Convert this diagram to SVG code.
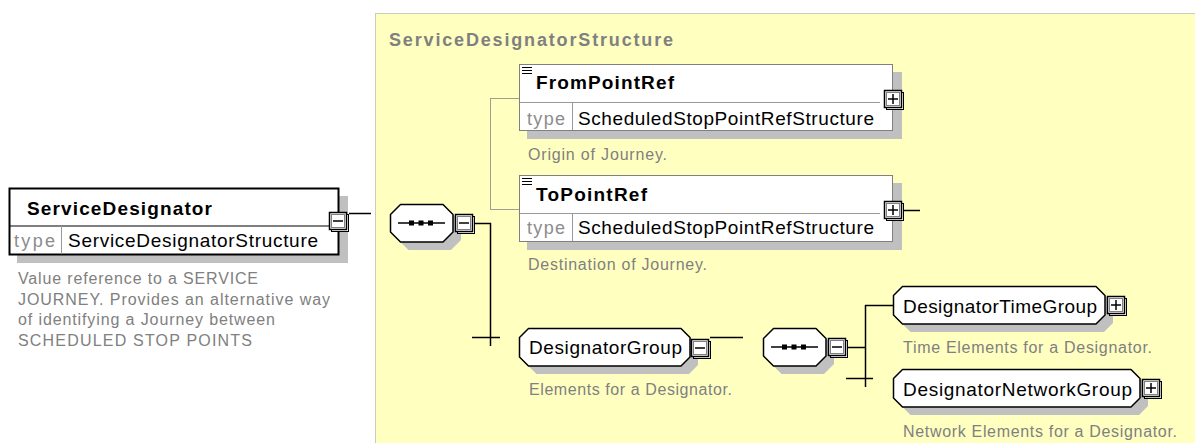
<svg xmlns="http://www.w3.org/2000/svg" xmlns:xlink="http://www.w3.org/1999/xlink" width="1195" height="443" viewBox="0 0 1195 443">
<style>
text{font-family:"Liberation Sans",Arial,sans-serif;}
.nm{font-size:19px;fill:#000;}
.bnm{font-size:19px;font-weight:bold;fill:#000;}
.ty{font-size:18px;fill:#8c8c8c;}
.ds{font-size:16px;fill:#808080;}
.ttl{font-size:18px;font-weight:bold;fill:#808080;}
.sh{fill:#c0c0c0;stroke:none;}
.box{fill:#fff;stroke:#808080;stroke-width:1;}
.gshape{fill:#fff;stroke:#000;stroke-width:1.5;stroke-linejoin:round;}
.div{stroke:#999;stroke-width:1;fill:none;}
.cn{stroke:#000;stroke-width:1.5;fill:none;}
.cg{stroke:#a0a090;stroke-width:1;fill:none;}
</style>
<defs>
<g id="btnbase">
<rect x="2.5" y="2.5" width="17" height="17" fill="#fff" stroke="#000" stroke-width="1"/>
<rect x="0.5" y="0.5" width="17" height="17" fill="#fff" stroke="#000" stroke-width="1.5"/>
<rect x="2.5" y="2.5" width="13" height="13" fill="none" stroke="#808080" stroke-width="1"/>
</g>
<g id="btnminus">
<use xlink:href="#btnbase"/>
<line x1="4" y1="9" x2="14" y2="9" stroke="#000" stroke-width="1.5"/>
</g>
<g id="btnplus">
<use xlink:href="#btnbase"/>
<line x1="4" y1="9" x2="14" y2="9" stroke="#000" stroke-width="1.5"/>
<line x1="9" y1="4" x2="9" y2="14" stroke="#000" stroke-width="1.5"/>
</g>
<g id="seq">
<path class="sh" d="M18.5,8.5 H61 L71,18.5 V36 L61,46 H18.5 L8.5,36 V18.5 Z"/>
<path class="gshape" d="M10.5,0.5 H53 L63,10.5 V28 L53,38 H10.5 L0.5,28 V10.5 Z"/>
<line x1="8" y1="19" x2="55" y2="19" stroke="#000" stroke-width="1.5"/>
<rect x="19" y="16.5" width="5" height="5" fill="#000"/>
<rect x="28.5" y="16.5" width="5" height="5" fill="#000"/>
<rect x="38" y="16.5" width="5" height="5" fill="#000"/>
</g>
<g id="seqicon">
<line x1="0" y1="0.5" x2="10" y2="0.5" stroke="#000" stroke-width="1"/>
<line x1="0" y1="3.5" x2="10" y2="3.5" stroke="#000" stroke-width="1"/>
<line x1="0" y1="6.5" x2="10" y2="6.5" stroke="#000" stroke-width="1"/>
</g>
</defs>

<rect x="375.5" y="13.5" width="830" height="440" fill="#ffffc0" stroke="#999" stroke-width="1" stroke-dasharray="1,1"/>
<text class="ttl" x="389" y="46" textLength="284" lengthAdjust="spacing">ServiceDesignatorStructure</text>

<g id="connectors">
<line class="cn" x1="349" y1="213.5" x2="371" y2="213.5"/>
<line class="cn" x1="474" y1="223.5" x2="491" y2="223.5"/>
<line class="cn" x1="490.5" y1="223" x2="490.5" y2="346"/>
<line class="cn" x1="472" y1="337.5" x2="500" y2="337.5"/>
<line class="cg" x1="490.5" y1="98" x2="490.5" y2="209"/>
<line class="cg" x1="490" y1="98.5" x2="519" y2="98.5"/>
<line class="cg" x1="490" y1="209.5" x2="519" y2="209.5"/>
<line class="cn" x1="903" y1="210.5" x2="920" y2="210.5"/>
<line class="cn" x1="710" y1="337.5" x2="743" y2="337.5"/>
<line class="cn" x1="847" y1="347.5" x2="866" y2="347.5"/>
<line class="cn" x1="865.5" y1="305" x2="865.5" y2="387"/>
<line class="cn" x1="865" y1="305.5" x2="893" y2="305.5"/>
<line class="cn" x1="846" y1="378.5" x2="873" y2="378.5"/>
</g>

<g id="ServiceDesignator">
<rect class="sh" x="17" y="196" width="331" height="67"/>
<rect x="9.5" y="188.5" width="329" height="66" fill="#fff" stroke="#000" stroke-width="2"/>
<line x1="10" y1="226" x2="338" y2="226" stroke="#000" stroke-width="1"/>
<line x1="61.5" y1="226" x2="61.5" y2="254" stroke="#999" stroke-width="1"/>
<text class="bnm" x="27" y="215" textLength="185" lengthAdjust="spacing">ServiceDesignator</text>
<text class="ty" x="14" y="247" textLength="41" lengthAdjust="spacing">type</text>
<text class="nm" x="68" y="247" textLength="250" lengthAdjust="spacing">ServiceDesignatorStructure</text>
<use xlink:href="#btnminus" x="329" y="212"/>
<text class="ds" x="18" y="284" textLength="240" lengthAdjust="spacing">Value reference to a SERVICE</text>
<text class="ds" x="18" y="305" textLength="312" lengthAdjust="spacing">JOURNEY. Provides an alternative way</text>
<text class="ds" x="18" y="325" textLength="257" lengthAdjust="spacing">of identifying a Journey between</text>
<text class="ds" x="18" y="346" textLength="234" lengthAdjust="spacing">SCHEDULED STOP POINTS</text>
</g>

<g id="Sequence1">
<use xlink:href="#seq" x="390" y="204"/>
<use xlink:href="#btnminus" x="455" y="214"/>
</g>

<g id="FromPointRef">
<rect class="sh" x="527" y="72" width="375" height="67"/>
<rect class="box" x="519.5" y="64.5" width="373" height="66"/>
<line class="div" x1="520" y1="102.5" x2="880" y2="102.5"/>
<line class="div" x1="572.5" y1="103" x2="572.5" y2="130"/>
<use xlink:href="#seqicon" x="522" y="67"/>
<text class="bnm" x="536" y="89" textLength="138" lengthAdjust="spacing">FromPointRef</text>
<text class="ty" x="527" y="125" textLength="38" lengthAdjust="spacing">type</text>
<text class="nm" x="578" y="125" textLength="296" lengthAdjust="spacing">ScheduledStopPointRefStructure</text>
<use xlink:href="#btnplus" x="884" y="90"/>
<text class="ds" x="528" y="160" textLength="139" lengthAdjust="spacing">Origin of Journey.</text>
</g>

<g id="ToPointRef">
<rect class="sh" x="527" y="183" width="375" height="67"/>
<rect class="box" x="519.5" y="175.5" width="373" height="66"/>
<line class="div" x1="520" y1="213.5" x2="880" y2="213.5"/>
<line class="div" x1="572.5" y1="214" x2="572.5" y2="241"/>
<use xlink:href="#seqicon" x="522" y="178"/>
<text class="bnm" x="536" y="201" textLength="111" lengthAdjust="spacing">ToPointRef</text>
<text class="ty" x="527" y="234" textLength="38" lengthAdjust="spacing">type</text>
<text class="nm" x="578" y="234" textLength="296" lengthAdjust="spacing">ScheduledStopPointRefStructure</text>
<use xlink:href="#btnplus" x="884" y="201"/>
<text class="ds" x="528" y="270" textLength="179" lengthAdjust="spacing">Destination of Journey.</text>
</g>

<g id="DesignatorGroup">
<path class="sh" d="M536.5,336.5 H689 L698,345.5 V365 L689,374 H536.5 L527.5,365 V345.5 Z"/>
<path class="gshape" d="M528.5,328.5 H681 L690,337.5 V357 L681,366 H528.5 L519.5,357 V337.5 Z"/>
<text class="nm" x="529" y="354" textLength="153" lengthAdjust="spacing">DesignatorGroup</text>
<use xlink:href="#btnminus" x="691" y="339"/>
<text class="ds" x="529" y="395" textLength="203" lengthAdjust="spacing">Elements for a Designator.</text>
</g>

<g id="Sequence2">
<use xlink:href="#seq" x="763" y="328"/>
<use xlink:href="#btnminus" x="828" y="338"/>
</g>

<g id="DesignatorTimeGroup">
<path class="sh" d="M910.5,294.5 H1104 L1113,303.5 V323 L1104,332 H910.5 L901.5,323 V303.5 Z"/>
<path class="gshape" d="M902.5,286.5 H1096 L1105,295.5 V315 L1096,324 H902.5 L893.5,315 V295.5 Z"/>
<text class="nm" x="903" y="313" textLength="194" lengthAdjust="spacing">DesignatorTimeGroup</text>
<use xlink:href="#btnplus" x="1107" y="296"/>
<text class="ds" x="903" y="353" textLength="249" lengthAdjust="spacing">Time Elements for a Designator.</text>
</g>

<g id="DesignatorNetworkGroup">
<path class="sh" d="M910.5,377.5 H1139 L1148,386.5 V406 L1139,415 H910.5 L901.5,406 V386.5 Z"/>
<path class="gshape" d="M902.5,369.5 H1131 L1140,378.5 V398 L1131,407 H902.5 L893.5,398 V378.5 Z"/>
<text class="nm" x="903" y="396" textLength="229" lengthAdjust="spacing">DesignatorNetworkGroup</text>
<use xlink:href="#btnplus" x="1142" y="379"/>
<text class="ds" x="903" y="437" textLength="274" lengthAdjust="spacing">Network Elements for a Designator.</text>
</g>
</svg>
